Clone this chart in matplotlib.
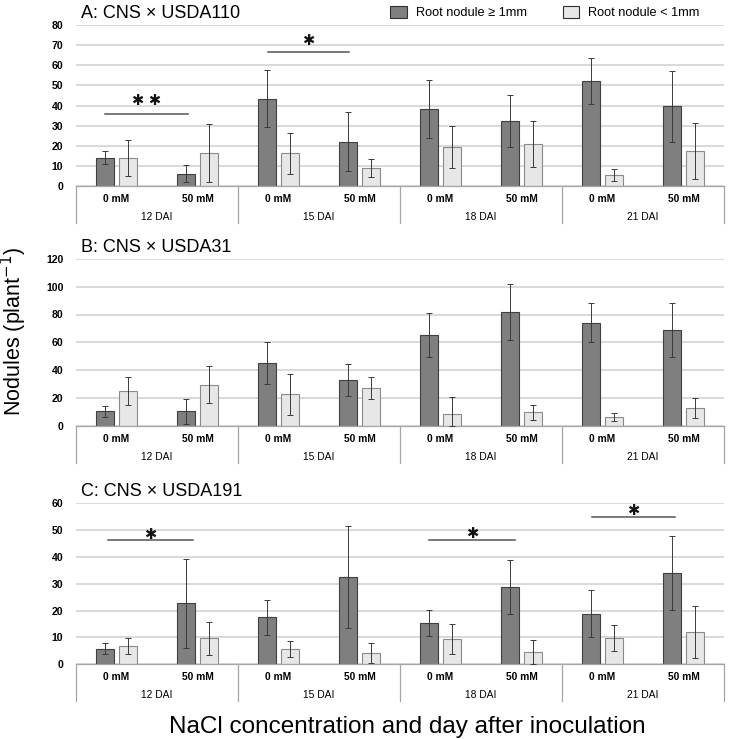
import numpy as np
from matplotlib import pyplot as plt
from matplotlib.patches import Patch

plt.rcParams['font.family'] = ['Liberation Sans', 'DejaVu Sans']

conc = ['0 mM', '50 mM'] * 4
dai = ['12 DAI', '15 DAI', '18 DAI', '21 DAI']
series_names = ['Root nodule \u2265 1mm', 'Root nodule < 1mm']

# panel A: CNS x USDA110
a_big = [14.1, 6.2, 43.3, 22.0, 38.2, 32.3, 52.2, 39.7]
a_big_err = [3.4, 4.0, 14.2, 14.7, 14.3, 13.0, 11.4, 17.6]
a_small = [14.0, 16.3, 16.2, 8.8, 19.4, 20.9, 5.5, 17.4]
a_small_err = [8.8, 14.3, 10.1, 4.5, 10.4, 11.5, 2.8, 13.9]
# panel B: CNS x USDA31
b_big = [10.1, 10.1, 45.1, 32.9, 65.3, 81.6, 74.2, 68.9]
b_big_err = [3.8, 9.0, 15.3, 11.5, 15.7, 20.2, 13.8, 19.2]
b_small = [25.2, 29.5, 22.6, 26.9, 8.4, 9.6, 6.2, 12.5]
b_small_err = [10.1, 13.4, 14.8, 7.8, 12.0, 5.3, 3.0, 7.2]
# panel C: CNS x USDA191
c_big = [5.8, 22.7, 17.5, 32.4, 15.5, 28.9, 18.8, 34.0]
c_big_err = [2.0, 16.5, 6.5, 19.0, 4.9, 10.0, 8.8, 13.9]
c_small = [6.8, 9.7, 5.8, 4.2, 9.3, 4.5, 9.7, 11.9]
c_small_err = [2.9, 6.2, 2.9, 3.8, 5.6, 4.7, 4.9, 9.7]

# significance marks: (from, to, line height, star height, label)
a_sig = [(-0.14, 0.88, 35.8, 42.7, '\u2731 \u2731'), (1.87, 2.87, 66.7, 72.5, '\u2731')]
b_sig = []
c_sig = [(-0.11, 0.95, 46.2, 48.5, '\u2731'), (3.86, 4.92, 46.2, 48.8, '\u2731'),
         (5.87, 6.89, 54.9, 57.4, '\u2731')]

panels = [
    ('A: CNS \u00d7 USDA110', a_big, a_big_err, a_small, a_small_err, a_sig, 80, 10),
    ('B: CNS \u00d7 USDA31', b_big, b_big_err, b_small, b_small_err, b_sig, 120, 20),
    ('C: CNS \u00d7 USDA191', c_big, c_big_err, c_small, c_small_err, c_sig, 60, 10),
]
# axes boxes in pixels: (top, bottom)
boxes = [(25, 186), (259, 425.5), (503.3, 664.3)]

W, H = 731, 739
fig = plt.figure(figsize=(W/100, H/100), dpi=100)

x = np.arange(8)
bw = 0.22
off = 0.143

for (title, big, big_e, small, small_e, sig, ymax, step), (top, bot) in zip(panels, boxes):
    ax = fig.add_axes([76/W, 1-bot/H, 648/W, (bot-top)/H])
    big = np.array(big); small = np.array(small)
    big_e = np.array(big_e); small_e = np.array(small_e)
    ax.bar(x-off, big, bw, color='#7f7f7f', edgecolor='#404040', lw=0.8, zorder=2)
    ax.bar(x+off, small, bw, color='#e7e7e7', edgecolor='#8a8a8a', lw=0.8, zorder=2)
    ax.errorbar(x-off, big, yerr=[np.minimum(big_e, big), big_e], fmt='none',
                ecolor='#3a3a3a', elinewidth=0.7, capsize=2, capthick=0.7, zorder=3)
    ax.errorbar(x+off, small, yerr=[np.minimum(small_e, small), small_e], fmt='none',
                ecolor='#3a3a3a', elinewidth=0.7, capsize=2, capthick=0.7, zorder=3)

    ax.set_xlim(-0.5, 7.5)
    ax.set_ylim(0, ymax)
    ax.set_yticks(np.arange(0, ymax+1, step))
    ax.set_xticks([])
    ax.tick_params(axis='y', length=0, pad=9, labelsize=7.6)
    for t in ax.get_yticklabels():
        t.set_fontweight('bold')
    ax.yaxis.grid(True, color='#d9d9d9', lw=1.4)
    ax.set_axisbelow(True)
    for s in ['top', 'right', 'left']:
        ax.spines[s].set_visible(False)
    ax.spines['bottom'].set_color('#a6a6a6')
    ax.spines['bottom'].set_linewidth(0.9)

    # category box under the axis
    depth = 37 / (bot-top)
    for xv in [-0.5, 1.5, 3.5, 5.5, 7.5]:
        ax.plot([xv, xv], [0, -depth], color='#a6a6a6', lw=0.9,
                transform=ax.get_xaxis_transform(), clip_on=False)
    for i, c in enumerate(conc):
        ax.annotate(c, xy=(i, 0), xycoords=('data', 'axes fraction'), xytext=(0, -13),
                    textcoords='offset pixels', ha='center', va='center',
                    fontsize=7.4, fontweight='bold')
    for i, d in enumerate(dai):
        ax.annotate(d, xy=(2*i+0.5, 0), xycoords=('data', 'axes fraction'), xytext=(0, -31),
                    textcoords='offset pixels', ha='center', va='center', fontsize=7.4)

    for x0, x1, yl, ys, lab in sig:
        ax.plot([x0, x1], [yl, yl], color='#555555', lw=1.1, zorder=4)
        ax.text((x0+x1)/2, ys, lab, ha='center', va='center', fontsize=10.5,
                family=['DejaVu Sans'], color='#111111', zorder=4)

    fig.text(81/W, 1-(top-12)/H, title, ha='left', va='center', fontsize=13)

handles = [Patch(facecolor='#7f7f7f', edgecolor='#303030', lw=0.8),
           Patch(facecolor='#e7e7e7', edgecolor='#303030', lw=0.8)]
fig.legend(handles, series_names, loc='center', bbox_to_anchor=(545/W, 1-12.5/H), ncol=2,
           frameon=False, fontsize=9.2, handlelength=1.3, handleheight=1.1,
           handletextpad=0.7, columnspacing=2.8)

fig.text(14/W, 1-331/H, 'Nodules (plant$^{-1}$)', rotation=90, ha='center', va='center',
         fontsize=15.5)
fig.text(407/W, 1-727/H, 'NaCl concentration and day after inoculation', ha='center',
         va='center', fontsize=17.5)

fig.savefig('out.png', dpi=100)
